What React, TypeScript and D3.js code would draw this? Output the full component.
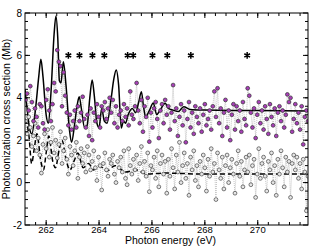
import * as d3 from 'd3';

// energy grid of the measurements (eV)
const energyStart = 261.22;
const energyStep = 0.06;

// measured cross section, upper set (Mb)
const upperValues = [
  3.9, 4.2, 3.4, 4.55, 3.8, 2.9, 3.5, 3.1, 2.6, 3.7,
  3.6, 2.8, 2.5, 3.9, 4.4, 3.4, 2.9, 3.7, 4.7, 4.3,
  6.25, 5.7, 5.5, 3.6, 5.2, 4.1, 3.3, 2.7, 3.2, 2.5,
  2.9, 3.4, 2.6, 3.6, 2.9, 3.3, 4.05, 3.0, 2.6, 3.2,
  2.2, 3.5, 2.0, 3.3, 2.9, 3.7, 3.1, 2.6, 3.6, 3.4,
  3.8, 3.0, 3.5, 4.0, 3.3, 3.9, 2.8, 3.6, 2.6, 3.2,
  3.4, 2.9, 3.7, 3.1, 3.5, 2.7, 4.3, 3.2, 3.0, 3.6,
  4.7, 3.4, 2.8, 3.9, 2.4, 3.6, 3.1, 4.0, 1.93, 3.3,
  2.6, 3.5, 3.8, 3.0, 2.1, 3.4, 3.7, 2.8, 3.9, 3.2,
  3.6, 2.5, 3.3, 4.6, 2.9, 3.5, 2.2, 3.1, 3.7, 2.7,
  3.4, 1.9, 3.0, 3.8, 2.6, 3.3, 2.3, 3.6, 3.1, 2.8,
  3.5, 2.4, 3.2, 3.7, 2.7, 3.0, 3.4, 2.5, 3.6, 4.3,
  3.1, 4.45, 2.8, 3.5, 2.2, 3.3, 3.9, 2.6, 3.4, 2.0,
  3.2, 3.7, 2.5, 3.6, 2.9, 3.4, 2.4, 3.8, 3.0, 2.7,
  4.45, 4.1, 3.3, 2.6, 3.5, 2.1, 3.2, 3.8, 2.8, 3.4,
  2.5, 3.6, 3.0, 2.3, 3.7, 3.1, 2.7, 3.5, 2.2, 3.3,
  3.6, 2.9, 3.4, 2.6, 3.2, 4.16, 3.8, 4.0, 2.4, 3.0,
  3.7, 2.8, 3.3, 2.5, 3.6, 1.8, 3.1, 3.4, 2.9,
];

// measured cross section, lower set (Mb)
const lowerValues = [
  2.9, 2.3, 3.1, 2.6, 1.7, 2.2, 2.8, 1.5, 2.1, 1.3,
  0.45, 1.8, 2.3, 1.6, 2.5, 1.2, 1.9, 2.6, 1.4, 2.0,
  1.16, 1.8, 2.4, 0.9, 1.5, 2.1, 1.1, 0.4, 1.7, 1.3,
  0.8, 1.5, 1.9, 0.2, 1.2, 1.6, 0.9, 1.4, 0.5, 1.7,
  1.3, 0.6, 1.0, 1.5, 0.7, 0.1, 1.2, 0.8, -0.35, 0.9,
  1.4, 0.6, 0.3, 1.1, 0.9, 1.3, 0.4, 0.0, 1.0, 0.7,
  1.2, 0.5, 1.5, 0.2, -0.1, 1.6, 0.8, 0.4, 1.1, 0.6,
  1.3, 0.1, 0.9, 1.7, 0.5, 1.0, 0.3, 1.4, -0.43, 0.8,
  0.6, 1.2, 0.2, 1.5, -0.2, 0.9, 1.3, 0.4, 1.0, -0.5,
  1.1, 0.3, 1.6, 0.7, -0.3, 1.3, 0.5, 1.9, 0.0, 0.8,
  1.4, 0.2, 0.9, -0.6, 1.2, 0.6, 1.5, 0.1, 0.8, -0.2,
  1.0, 0.4, 1.3, 0.7, -0.4, 1.1, 0.3, 1.6, 0.5, 0.9,
  -0.8, 1.4, 0.6, 0.2, 1.2, -0.3, 0.8, 1.3, 0.0, 0.7,
  1.1, 0.4, -0.5, 0.9, 1.5, 0.3, 1.0, -0.2, 0.6, 1.2,
  0.5, 1.3, -0.1, 0.8, 1.1, -0.7, 0.4, 1.6, 0.2, 0.9,
  1.2, 0.3, -0.4, 1.0, 0.6, 1.4, 0.0, 0.8, -0.6, 1.1,
  0.4, 1.5, 0.7, -0.2, 1.2, 0.5, 1.0, -0.7, 0.9, 1.3,
  0.6, 1.2, 0.2, 0.9, -0.3, 1.1, 0.5, -1.33, 0.3,
];

// theory, solid curve
const theoryEnergies = [
  261.2, 261.27, 261.38, 261.46, 261.6, 261.72, 261.8, 261.88, 262.0, 262.08,
  262.18, 262.3, 262.37, 262.44, 262.5, 262.56, 262.65, 262.75, 262.88, 262.96,
  263.08, 263.18, 263.25, 263.33, 263.45, 263.55, 263.65, 263.74, 263.82, 263.92,
  264.0, 264.1, 264.2, 264.3, 264.45, 264.56, 264.65, 264.74, 264.84, 264.92,
  265.0, 265.1, 265.26, 265.38, 265.5, 265.6, 265.68, 265.76, 265.9, 266.05,
  266.18, 266.3, 266.5, 266.62, 266.8, 267.0, 267.2, 267.45, 268, 269, 270, 271.9,
];
const theoryValues = [
  4.4, 3.6, 2.5, 2.3, 3.5, 5.0, 5.82, 5.0, 3.2, 2.8,
  4.2, 7.0, 7.86, 6.8, 4.8, 4.7, 5.7, 4.6, 2.5, 1.9,
  2.8, 3.7, 4.05, 3.5, 2.6, 2.7, 4.0, 4.84, 4.1, 2.8,
  2.6, 3.5, 2.9, 2.8, 3.9, 4.9, 5.31, 4.6, 2.57, 2.9,
  2.8, 3.2, 3.5, 3.3, 3.8, 4.29, 3.6, 3.1, 3.4, 3.75,
  3.2, 3.4, 3.74, 3.5, 3.42, 3.35, 3.58, 3.45, 3.42, 3.4, 3.4, 3.38,
];

// theory, dashed curve
const dashedEnergies = [
  261.2, 261.35, 261.45, 261.55, 261.65, 261.8, 261.9, 262.0, 262.1, 262.25,
  262.35, 262.5, 262.6, 262.75, 262.9, 263.05, 263.2, 263.4, 263.6, 263.8,
  264.0, 264.3, 264.6, 265.0, 265.4, 265.8, 266.5, 268, 270, 271.9,
];
const dashedValues = [
  3.0, 2.2, 0.9, 1.6, 2.3, 1.0, 0.6, 1.4, 2.2, 1.0,
  0.7, 1.6, 2.0, 1.1, 0.6, 1.0, 1.4, 0.7, 0.9, 0.6,
  0.8, 0.55, 0.8, 0.5, 0.6, 0.4, 0.45, 0.4, 0.4, 0.4,
];

// resonance markers
const markerEnergies = [262.84, 263.26, 263.75, 264.2, 265.08, 265.29, 266.02, 266.58, 267.47, 269.6];
const markerLevel = 6;

const xTicks = [262, 264, 266, 268, 270];
const yTicks = [-2, 0, 2, 4, 6, 8];

const W = 319;
const H = 247;
const left = 25;
const right = 308;
const top = 13;
const bottom = 225;
const font = '"Liberation Sans", Arial, sans-serif';

export default function App() {
  const x = d3.scaleLinear().domain([261.2, 271.9]).range([left, right]);
  const y = d3.scaleLinear().domain([-2, 8]).range([bottom, top]);

  const energy = (i: number) => energyStart + energyStep * i;
  const upper = upperValues.map((v, i) => [energy(i), v] as [number, number]);
  const lower = lowerValues.map((v, i) => [energy(i), v] as [number, number]);

  const pts = d3.line<[number, number]>().x(d => x(d[0])).y(d => y(d[1]));
  const smooth = d3
    .line<[number, number]>()
    .x(d => x(d[0]))
    .y(d => y(d[1]))
    .curve(d3.curveMonotoneX);

  const theory = theoryEnergies.map((e, i) => [e, theoryValues[i]] as [number, number]);
  const dashed = dashedEnergies.map((e, i) => [e, dashedValues[i]] as [number, number]);

  const xMinor = d3.range(261.6, 271.85, 0.4);
  const yMinor = d3.range(-1.6, 7.9, 0.4);
  const star = d3.symbol().type(d3.symbolAsterisk).size(30)();

  return (
    <svg width={W} height={H} style={{ position: 'absolute', left: 0, top: 0 }}>
      <defs>
        <clipPath id="plot">
          <rect x={left} y={top} width={right - left} height={bottom - top} />
        </clipPath>
      </defs>
      <rect width={W} height={H} fill="#fff" />
      <g clipPath="url(#plot)">
        <path d={pts(lower) || ''} fill="none" stroke="#aaa" strokeWidth={0.7} strokeDasharray="1,1" />
        <path d={pts(upper) || ''} fill="none" stroke="#aaa" strokeWidth={0.7} strokeDasharray="1,1" />
        <path d={smooth(dashed) || ''} fill="none" stroke="#000" strokeWidth={1.5} strokeDasharray="5,3" />
        <path d={smooth(theory) || ''} fill="none" stroke="#000" strokeWidth={1.5} />
        {lower.map((d, i) => (
          <circle key={'l' + i} cx={x(d[0])} cy={y(d[1])} r={1.9} fill="#e6e6e6" stroke="#444" strokeWidth={0.7} />
        ))}
        {upper.map((d, i) => (
          <circle key={'u' + i} cx={x(d[0])} cy={y(d[1])} r={1.9} fill="#a83fb8" stroke="#333" strokeWidth={0.7} />
        ))}
        {markerEnergies.map((e, i) => (
          <path
            key={'m' + i}
            d={star || ''}
            transform={`translate(${x(e)},${y(markerLevel)})`}
            fill="none"
            stroke="#000"
            strokeWidth={1.5}
          />
        ))}
      </g>

      <rect x={left} y={top} width={right - left} height={bottom - top} fill="none" stroke="#000" strokeWidth={1} />

      {xTicks.map(t => (
        <g key={'xt' + t}>
          <line x1={x(t)} x2={x(t)} y1={bottom} y2={bottom - 5} stroke="#000" />
          <line x1={x(t)} x2={x(t)} y1={top} y2={top + 5} stroke="#000" />
          <text x={x(t)} y={bottom + 8} textAnchor="middle" fontSize={9.5} fontFamily={font}>
            {t}
          </text>
        </g>
      ))}
      {xMinor.map((t, i) => (
        <g key={'xm' + i}>
          <line x1={x(t)} x2={x(t)} y1={bottom} y2={bottom - 3} stroke="#000" />
          <line x1={x(t)} x2={x(t)} y1={top} y2={top + 3} stroke="#000" />
        </g>
      ))}
      {yTicks.map(t => (
        <g key={'yt' + t}>
          <line x1={left} x2={left + 5} y1={y(t)} y2={y(t)} stroke="#000" />
          <line x1={right} x2={right - 5} y1={y(t)} y2={y(t)} stroke="#000" />
          <text x={left - 3} y={y(t) + 3.5} textAnchor="end" fontSize={10} fontFamily={font}>
            {t}
          </text>
        </g>
      ))}
      {yMinor.map((t, i) => (
        <g key={'ym' + i}>
          <line x1={left} x2={left + 3} y1={y(t)} y2={y(t)} stroke="#000" />
          <line x1={right} x2={right - 3} y1={y(t)} y2={y(t)} stroke="#000" />
        </g>
      ))}

      <text x={(left + right) / 2 + 4} y={244.3} textAnchor="middle" fontSize={10.5} fontFamily={font}>
        Photon energy (eV)
      </text>
      <text
        transform={`translate(10,${(top + bottom) / 2}) rotate(-90)`}
        textAnchor="middle"
        fontSize={10.5}
        fontFamily={font}
      >
        Photoionization cross section (Mb)
      </text>
    </svg>
  );
}
